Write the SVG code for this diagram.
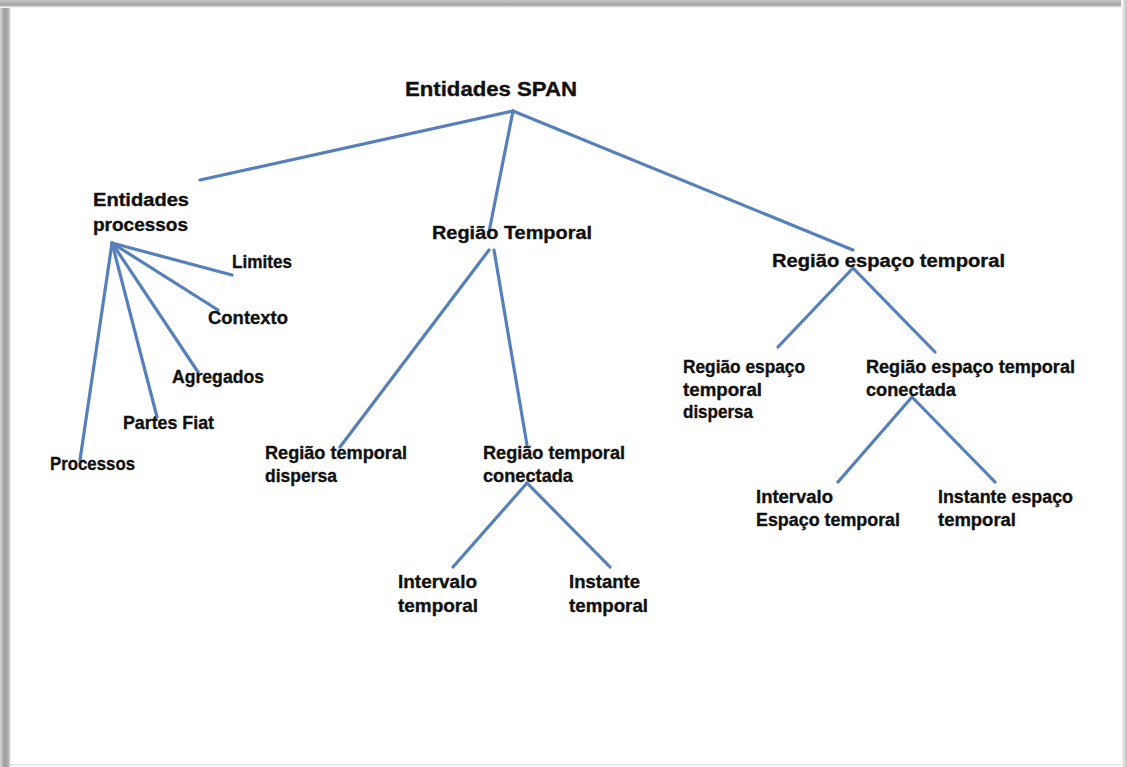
<svg xmlns="http://www.w3.org/2000/svg" width="1127" height="767" viewBox="0 0 1127 767">
  <defs>
    <linearGradient id="shadeLeft" x1="0" y1="0" x2="1" y2="0">
      <stop offset="0" stop-color="#d8d8d8"/>
      <stop offset="0.45" stop-color="#9a9a9a"/>
      <stop offset="0.8" stop-color="#b8b8b8"/>
      <stop offset="1" stop-color="#ffffff"/>
    </linearGradient>
    <linearGradient id="shadeTop" x1="0" y1="0" x2="0" y2="1">
      <stop offset="0" stop-color="#c8c8c8"/>
      <stop offset="0.6" stop-color="#a0a0a0"/>
      <stop offset="1" stop-color="#ffffff"/>
    </linearGradient>
    <linearGradient id="shadeRight" x1="0" y1="0" x2="1" y2="0">
      <stop offset="0" stop-color="#ffffff"/>
      <stop offset="1" stop-color="#bdbdbd"/>
    </linearGradient>
    <style>
      .lbl { font-family: "Liberation Sans", Arial, sans-serif; font-weight: bold; font-size: 18px; fill: #111; stroke: #111; stroke-width: 0.35px; }
      .root { font-size: 20px; }
      .edge { stroke: #5580bb; stroke-width: 3.2; stroke-linecap: round; fill: none; }
    </style>
  </defs>

  <!-- page with drop shadow on its edges -->
  <rect x="0" y="0" width="1127" height="767" fill="#ffffff"/>
  <rect x="0" y="0" width="11" height="767" fill="url(#shadeLeft)"/>
  <rect x="0" y="0" width="1127" height="8" fill="url(#shadeTop)"/>
  <rect x="1121" y="0" width="6" height="767" fill="url(#shadeRight)"/>
  <rect x="11" y="764" width="1110" height="1.5" fill="#e2e2e2"/>

  <!-- connectors -->
  <g id="connectors">
    <line class="edge" x1="513" y1="111" x2="200" y2="180"/>
    <line class="edge" x1="513" y1="111" x2="489" y2="232"/>
    <line class="edge" x1="513" y1="111" x2="853" y2="250"/>

    <line class="edge" x1="112" y1="243" x2="232" y2="275"/>
    <line class="edge" x1="112" y1="243" x2="218" y2="310"/>
    <line class="edge" x1="112" y1="243" x2="198" y2="372"/>
    <line class="edge" x1="112" y1="243" x2="157" y2="417"/>
    <line class="edge" x1="112" y1="243" x2="80" y2="460"/>

    <line class="edge" x1="489" y1="250" x2="340" y2="447"/>
    <line class="edge" x1="494" y1="250" x2="527" y2="445"/>
    <line class="edge" x1="527" y1="483" x2="453" y2="567"/>
    <line class="edge" x1="527" y1="483" x2="610" y2="567"/>

    <line class="edge" x1="853" y1="268" x2="778" y2="347"/>
    <line class="edge" x1="853" y1="268" x2="935" y2="352"/>
    <line class="edge" x1="912" y1="397" x2="838" y2="482"/>
    <line class="edge" x1="912" y1="397" x2="995" y2="482"/>
  </g>

  <!-- nodes -->
  <g id="n-root">
    <text class="lbl root" x="405" y="96" textLength="172" lengthAdjust="spacingAndGlyphs">Entidades SPAN</text>
  </g>
  <g id="n-processos-ent">
    <text class="lbl" x="93" y="206" textLength="96" lengthAdjust="spacingAndGlyphs">Entidades</text>
    <text class="lbl" x="93" y="231" textLength="95" lengthAdjust="spacingAndGlyphs">processos</text>
  </g>
  <g id="n-limites">
    <text class="lbl" x="232" y="268" textLength="60" lengthAdjust="spacingAndGlyphs">Limites</text>
  </g>
  <g id="n-contexto">
    <text class="lbl" x="208" y="324" textLength="80" lengthAdjust="spacingAndGlyphs">Contexto</text>
  </g>
  <g id="n-agregados">
    <text class="lbl" x="172" y="383" textLength="92" lengthAdjust="spacingAndGlyphs">Agregados</text>
  </g>
  <g id="n-partes-fiat">
    <text class="lbl" x="123" y="429" textLength="91" lengthAdjust="spacingAndGlyphs">Partes Fiat</text>
  </g>
  <g id="n-processos">
    <text class="lbl" x="50" y="470" textLength="85" lengthAdjust="spacingAndGlyphs">Processos</text>
  </g>

  <g id="n-regiao-temporal">
    <text class="lbl" x="432" y="239" textLength="160" lengthAdjust="spacingAndGlyphs">Região Temporal</text>
  </g>
  <g id="n-rt-dispersa">
    <text class="lbl" x="265" y="459" textLength="142" lengthAdjust="spacingAndGlyphs">Região temporal</text>
    <text class="lbl" x="265" y="482" textLength="72" lengthAdjust="spacingAndGlyphs">dispersa</text>
  </g>
  <g id="n-rt-conectada">
    <text class="lbl" x="483" y="459" textLength="142" lengthAdjust="spacingAndGlyphs">Região temporal</text>
    <text class="lbl" x="483" y="482" textLength="90" lengthAdjust="spacingAndGlyphs">conectada</text>
  </g>
  <g id="n-intervalo-temporal">
    <text class="lbl" x="398" y="588" textLength="79" lengthAdjust="spacingAndGlyphs">Intervalo</text>
    <text class="lbl" x="398" y="612" textLength="80" lengthAdjust="spacingAndGlyphs">temporal</text>
  </g>
  <g id="n-instante-temporal">
    <text class="lbl" x="569" y="588" textLength="71" lengthAdjust="spacingAndGlyphs">Instante</text>
    <text class="lbl" x="569" y="612" textLength="79" lengthAdjust="spacingAndGlyphs">temporal</text>
  </g>

  <g id="n-regiao-espaco-temporal">
    <text class="lbl" x="772" y="267" textLength="233" lengthAdjust="spacingAndGlyphs">Região espaço temporal</text>
  </g>
  <g id="n-ret-dispersa">
    <text class="lbl" x="683" y="373" textLength="122" lengthAdjust="spacingAndGlyphs">Região espaço</text>
    <text class="lbl" x="683" y="396" textLength="79" lengthAdjust="spacingAndGlyphs">temporal</text>
    <text class="lbl" x="683" y="418" textLength="70" lengthAdjust="spacingAndGlyphs">dispersa</text>
  </g>
  <g id="n-ret-conectada">
    <text class="lbl" x="866" y="373" textLength="209" lengthAdjust="spacingAndGlyphs">Região espaço temporal</text>
    <text class="lbl" x="866" y="396" textLength="90" lengthAdjust="spacingAndGlyphs">conectada</text>
  </g>
  <g id="n-intervalo-et">
    <text class="lbl" x="756" y="503" textLength="77" lengthAdjust="spacingAndGlyphs">Intervalo</text>
    <text class="lbl" x="756" y="526" textLength="144" lengthAdjust="spacingAndGlyphs">Espaço temporal</text>
  </g>
  <g id="n-instante-et">
    <text class="lbl" x="938" y="503" textLength="135" lengthAdjust="spacingAndGlyphs">Instante espaço</text>
    <text class="lbl" x="938" y="526" textLength="78" lengthAdjust="spacingAndGlyphs">temporal</text>
  </g>
</svg>
